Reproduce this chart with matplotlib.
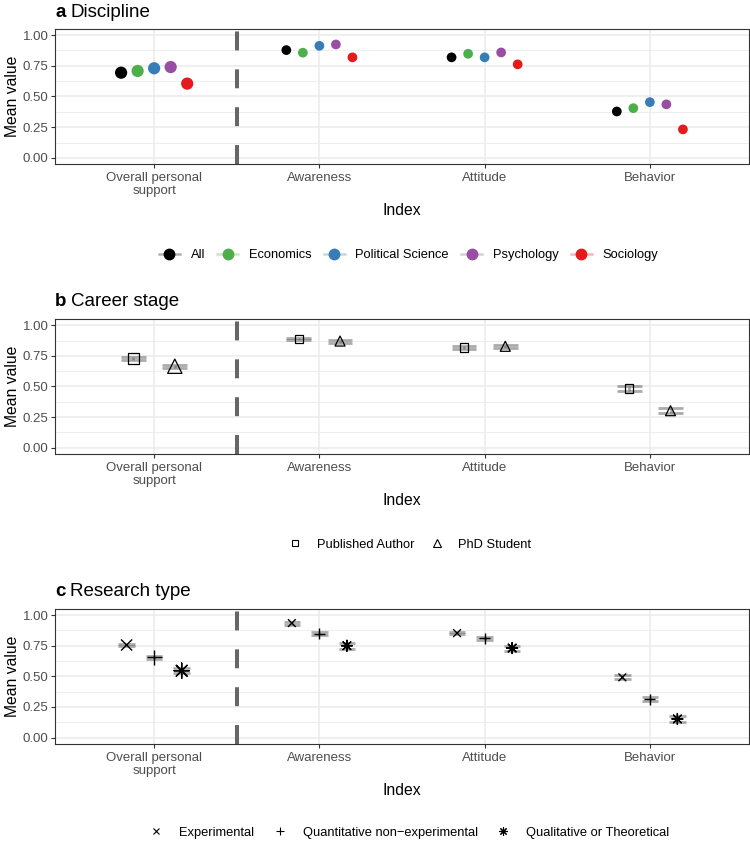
import numpy as np
import matplotlib
matplotlib.use("Agg")
import matplotlib.pyplot as plt
from matplotlib.lines import Line2D

plt.rcParams['font.family'] = ['Liberation Sans', 'DejaVu Sans']

# ---- data ----
index_labels = ["Overall personal\nsupport", "Awareness", "Attitude", "Behavior"]

disciplines = ["All", "Economics", "Political Science", "Psychology", "Sociology"]
disc_colors = ["#000000", "#4DAF4A", "#377EB8", "#984EA3", "#E41A1C"]
all_mean = [0.694, 0.878, 0.819, 0.378]
econ_mean = [0.708, 0.857, 0.848, 0.405]
polsci_mean = [0.730, 0.913, 0.819, 0.454]
psych_mean = [0.740, 0.924, 0.859, 0.436]
socio_mean = [0.605, 0.819, 0.762, 0.232]
disc_ci = [0.008, 0.012, 0.012, 0.012, 0.015]

career = ["Published Author", "PhD Student"]
published_mean = [0.729, 0.891, 0.818, 0.484]
phd_mean = [0.666, 0.872, 0.829, 0.302]
published_ci = [0.010, 0.010, 0.010, 0.018]
phd_ci = [0.012, 0.012, 0.010, 0.018]

research = ["Experimental", "Quantitative non\u2212experimental", "Qualitative or Theoretical"]
exp_mean = [0.756, 0.935, 0.853, 0.492]
quant_mean = [0.655, 0.848, 0.810, 0.313]
qual_mean = [0.546, 0.750, 0.731, 0.152]
exp_ci = [0.010, 0.012, 0.010, 0.015]
quant_ci = [0.010, 0.012, 0.012, 0.015]
qual_ci = [0.022, 0.025, 0.020, 0.022]

GRID = "#EBEBEB"
DARK = "#333333"
TXT = "#4D4D4D"
W, H = 750, 856


def fx(px):
    return px / W


def fy(py):
    return 1 - py / H


def setup_axes(top, bottom):
    ax = fig.add_axes([fx(55), fy(bottom), fx(749 - 55), (bottom - top) / H])
    ax.set_xlim(0.4, 4.6)
    ax.set_ylim(-0.05, 1.05)
    ax.set_yticks([0, 0.25, 0.5, 0.75, 1.0])
    ax.set_yticklabels(["0.00", "0.25", "0.50", "0.75", "1.00"])
    ax.set_yticks(np.arange(0.125, 1.0, 0.25), minor=True)
    ax.set_xticks([1, 2, 3, 4])
    ax.set_xticklabels(index_labels, linespacing=1.1)
    ax.grid(True, which="major", color=GRID, lw=1.1, zorder=0)
    ax.grid(True, which="minor", axis="y", color=GRID, lw=0.6, zorder=0)
    ax.set_axisbelow(True)
    ax.tick_params(which="minor", length=0)
    ax.tick_params(which="major", length=2.6, width=0.8, color=DARK,
                   labelcolor=TXT, labelsize=9.5, pad=2.2)
    ax.tick_params(axis="x", pad=3.4)
    for s in ax.spines.values():
        s.set_color(DARK)
        s.set_linewidth(0.8)
    ax.set_ylabel("Mean value", fontsize=11.3, color="black")
    ax.yaxis.set_label_coords(-0.051, 0.5)
    ax.set_xlabel("Index", fontsize=11.3, color="black")
    ax.xaxis.set_label_coords(0.5, -0.29)
    vl = ax.axvline(1.5, color="#666666", lw=2.9, zorder=1)
    vl.set_dashes((4.7, 4.7))
    return ax


def title(text_bold, text, baseline):
    t = fig.text(fx(55), fy(baseline), text_bold, fontsize=13.5,
                 fontweight="bold", va="baseline")
    plt.annotate(text, xy=(1, 0), xycoords=t, xytext=(3.5, 0),
                 textcoords="offset points", fontsize=13.5, va="bottom")


def errbars(ax, xs, means, cis, width, color, alpha, lw=1.5):
    xs = np.asarray(xs, float)
    m = np.asarray(means)
    c = np.asarray(cis)
    ax.hlines(m - c, xs - width / 2, xs + width / 2, color=color, alpha=alpha,
              lw=lw, zorder=2)
    ax.hlines(m + c, xs - width / 2, xs + width / 2, color=color, alpha=alpha,
              lw=lw, zorder=2)
    ax.vlines(xs, m - c, m + c, color=color, alpha=alpha, lw=lw, zorder=2)


fig = plt.figure(figsize=(7.5, 8.56), dpi=100)
x = np.arange(1, 5)

# ---- a Discipline ----
ax = setup_axes(29, 164)
title("a", "Discipline", 16.7)
disc_series = [all_mean, econ_mean, polsci_mean, psych_mean, socio_mean]
size_a = [8.8, 7.0, 7.0, 7.0]
for i, (vals, col) in enumerate(zip(disc_series, disc_colors)):
    xs = x + (i - 2) * 0.1
    errbars(ax, xs, vals, [disc_ci[i]] * 4, 0.05, col, 0.3)
    ax.scatter(xs, vals, s=np.square(size_a), color=col, zorder=3, linewidths=0)
handles = [Line2D([], [], color=(*matplotlib.colors.to_rgb(c), 0.3), lw=1.8,
                  marker="o", markersize=7.5, markerfacecolor=c, markeredgecolor=c)
           for c in disc_colors]
fig.legend(handles, disciplines, loc="center", bbox_to_anchor=(fx(408.5), fy(255)),
           ncol=5, frameon=False, fontsize=9.3, handlelength=1.65,
           handletextpad=0.8, columnspacing=0.95)

# ---- b Career stage ----
ax = setup_axes(319.3, 453.7)
title("b", "Career stage", 306)
errbars(ax, x - 0.125, published_mean, published_ci, 0.15, "0.4", 0.55, lw=2.0)
errbars(ax, x + 0.125, phd_mean, phd_ci, 0.15, "0.4", 0.55, lw=2.0)
ax.scatter(x - 0.125, published_mean, s=np.square([7.7, 6.0, 6.0, 6.0]), marker="s",
           facecolors="none", edgecolors="black", linewidths=0.9, zorder=3)
ax.scatter(x + 0.125, phd_mean, s=np.square([10.3, 7.2, 7.2, 7.2]), marker="^",
           facecolors="none", edgecolors="black", linewidths=0.9, zorder=3)
handles = [Line2D([], [], ls="none", marker="s", markersize=4.0, markerfacecolor="none",
                  markeredgecolor="black", markeredgewidth=0.8),
           Line2D([], [], ls="none", marker="^", markersize=5.5, markerfacecolor="none",
                  markeredgecolor="black", markeredgewidth=0.8)]
fig.legend(handles, career, loc="center", bbox_to_anchor=(fx(409), fy(545)),
           ncol=2, frameon=False, fontsize=9.3, handlelength=1.35,
           handletextpad=1.0, columnspacing=1.05)

# ---- c Research type ----
ax = setup_axes(609, 743.7)
title("c", "Research type", 595.7)
off = 1 / 6
errbars(ax, x - off, exp_mean, exp_ci, 0.1, "0.4", 0.55, lw=2.0)
errbars(ax, x, quant_mean, quant_ci, 0.1, "0.4", 0.55, lw=2.0)
errbars(ax, x + off, qual_mean, qual_ci, 0.1, "0.4", 0.55, lw=2.0)
ax.scatter(x - off, exp_mean, s=np.square([8.0, 5.6, 5.6, 5.6]), marker="x",
           color="black", linewidths=1.0, zorder=3)
ax.scatter(x, quant_mean, s=np.square([11.0, 7.8, 7.8, 7.8]), marker="+",
           color="black", linewidths=1.0, zorder=3)
ax.scatter(x + off, qual_mean, s=np.square([11.0, 7.8, 7.8, 7.8]), marker=(8, 2, 0),
           color="black", linewidths=1.0, zorder=3)
handles = [Line2D([], [], ls="none", marker="x", markersize=4.2, color="black", markeredgewidth=0.8),
           Line2D([], [], ls="none", marker="+", markersize=6.0, color="black", markeredgewidth=0.8),
           Line2D([], [], ls="none", marker=(8, 2, 0), markersize=6.0, color="black", markeredgewidth=0.8)]
fig.legend(handles, research, loc="center", bbox_to_anchor=(fx(408.5), fy(833)),
           ncol=3, frameon=False, fontsize=9.3, handlelength=1.35,
           handletextpad=1.1, columnspacing=1.3)

fig.savefig("out.png", dpi=100)
